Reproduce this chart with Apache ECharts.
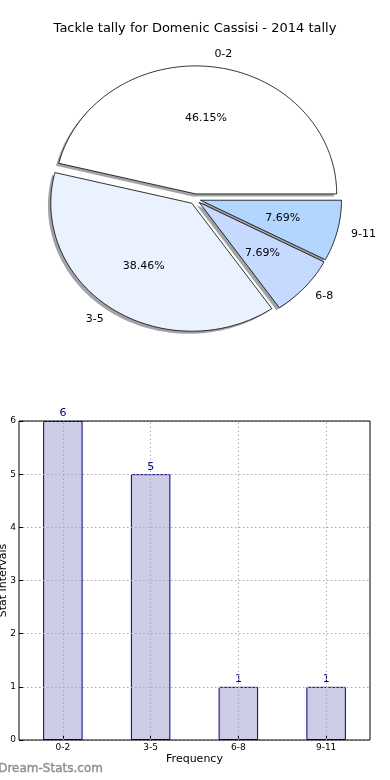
<!DOCTYPE html>
<html><head><meta charset="utf-8">
<script src="https://cdn.jsdelivr.net/npm/echarts@6/dist/echarts.min.js"></script>
<style>html,body{margin:0;padding:0;background:#fff}#c{width:390px;height:780px}</style>
</head><body><div id="c"></div>
<script>
const chartTitle = 'Tackle tally for Domenic Cassisi - 2014 tally';
const categories = ['0-2', '3-5', '6-8', '9-11'];
const counts = [6, 5, 1, 1];
const pieColors = ['#ffffff', '#ebf2ff', '#c6d9ff', '#b3d6ff'];
const yMin = 0, yMax = 6, yStep = 1;
const xAxisName = 'Frequency';
const yAxisName = 'Stat Intervals';
const watermark = 'Dream-Stats.com';

const FONT = 'DejaVu Sans';
const total = counts.reduce((a, b) => a + b, 0);
const PIE = { cx: 195, cy: 199, rx: 141, ry: 128, explode: 0.04, shadow: 0.02 };
let acc = 0;
const slices = counts.map(v => {
  const a0 = acc / total * 2 * Math.PI; acc += v;
  return { a0, a1: acc / total * 2 * Math.PI };
});

function wedgePoints(ox, oy, a0, a1) {
  const pts = [[ox, oy]];
  const n = Math.max(8, Math.ceil((a1 - a0) / (Math.PI / 180)));
  for (let k = 0; k <= n; k++) {
    const a = a0 + (a1 - a0) * k / n;
    pts.push([ox + PIE.rx * Math.cos(a), oy - PIE.ry * Math.sin(a)]);
  }
  return pts;
}

function renderPie(params, api) {
  const i = params.dataIndex;
  const { a0, a1 } = slices[i];
  const mid = (a0 + a1) / 2;
  const c = Math.cos(mid), s = Math.sin(mid);
  const ox = PIE.cx + PIE.explode * PIE.rx * c;
  const oy = PIE.cy - PIE.explode * PIE.ry * s;
  const pts = wedgePoints(ox, oy, a0, a1);
  const sh = pts.map(p => [p[0] - PIE.shadow * PIE.rx, p[1] + PIE.shadow * PIE.ry]);
  const pct = (api.value(0) / total * 100).toFixed(2) + '%';
  return {
    type: 'group',
    children: [
      { type: 'polygon', z2: 0, shape: { points: sh }, style: { fill: 'rgba(70,72,77,0.5)' } },
      { type: 'polygon', z2: 10, shape: { points: pts }, style: { fill: pieColors[i], stroke: '#000', lineWidth: 0.8 } },
      { type: 'text', z2: 20, x: ox + 0.6 * PIE.rx * c, y: oy - 0.6 * PIE.ry * s,
        style: { text: pct, font: '11px "' + FONT + '"', fill: '#000', align: 'center', verticalAlign: 'middle' } },
      { type: 'text', z2: 20, x: ox + 1.1 * PIE.rx * c, y: oy - 1.1 * PIE.ry * s,
        style: { text: categories[i], font: '11px "' + FONT + '"', fill: '#000', align: c > 0 ? 'left' : 'right', verticalAlign: 'middle' } }
    ]
  };
}

const gridLine = { color: '#aaaaaa', width: 1, type: [1.5, 2.5] };

const chart = echarts.init(document.getElementById('c'), null, { renderer: 'canvas' });
chart.setOption({
  animation: false,
  backgroundColor: '#fff',
  textStyle: { fontFamily: FONT },
  title: {
    text: chartTitle, left: 'center', top: 22, padding: 0,
    textStyle: { fontFamily: FONT, fontSize: 13, fontWeight: 'normal', color: '#000' }
  },
  graphic: [
    { type: 'text', left: -2, top: 763, style: { text: watermark, font: '12px "' + FONT + '"', fill: '#8f8f8f', stroke: '#8f8f8f', lineWidth: 0.4 } }
  ],
  grid: { left: 19, right: 20, top: 421, bottom: 40, outerBoundsMode: 'none', containLabel: false,
    show: true, borderColor: '#000', borderWidth: 1, backgroundColor: 'transparent', z: 6 },
  xAxis: {
    type: 'category', data: categories, boundaryGap: true, z: 5,
    axisLine: { show: false },
    axisTick: { show: true, inside: true, alignWithLabel: true, length: 4, lineStyle: { color: '#000' } },
    axisLabel: { fontFamily: FONT, fontSize: 9, color: '#000', margin: 3 },
    splitLine: { show: false },
    name: xAxisName, nameLocation: 'middle', nameGap: 14, nameMoveOverlap: false,
    nameTextStyle: { fontFamily: FONT, fontSize: 11, color: '#000', verticalAlign: 'top' }
  },
  yAxis: {
    type: 'value', min: yMin, max: yMax, interval: yStep, z: 5,
    axisLine: { show: false },
    axisTick: { show: true, inside: true, length: 4, lineStyle: { color: '#000' } },
    axisLabel: { fontFamily: FONT, fontSize: 9, color: '#000', margin: 3 },
    splitLine: { show: true, lineStyle: gridLine },
    name: yAxisName, nameLocation: 'middle', nameGap: 10, nameRotate: 90, nameMoveOverlap: false,
    nameTextStyle: { fontFamily: FONT, fontSize: 11, color: '#000' }
  },
  series: [
    {
      type: 'custom', coordinateSystem: 'none', data: counts, renderItem: renderPie, silent: true
    },
    {
      type: 'bar', data: counts, barWidth: '45%',
      itemStyle: { color: 'rgb(204,204,230)', borderColor: '#000080', borderWidth: 1 },
      label: { show: true, position: 'top', distance: 2, color: '#000080', fontFamily: FONT, fontSize: 11 },
      markLine: {
        silent: true, symbol: 'none', label: { show: false }, z: 6,
        lineStyle: gridLine,
        data: categories.map(c => ({ xAxis: c }))
      }
    }
  ]
});
</script></body></html>
